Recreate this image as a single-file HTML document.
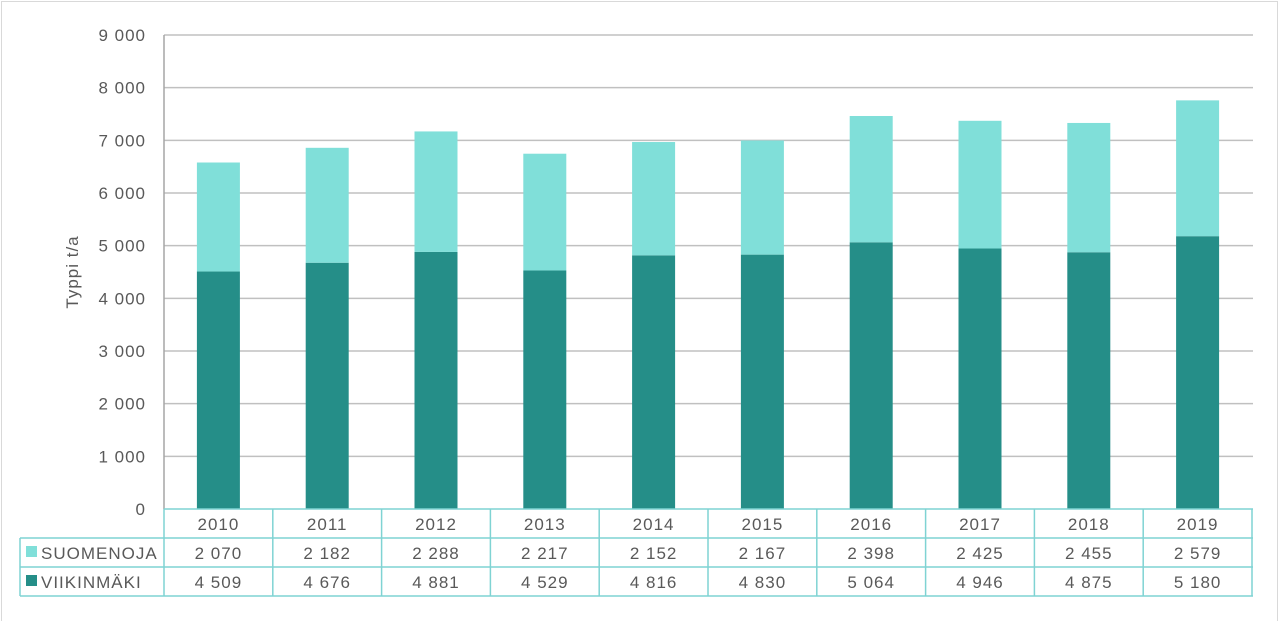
<!DOCTYPE html>
<html><head><meta charset="utf-8"><style>
body{margin:0;background:#fff;}
svg text{font-family:"Liberation Sans",sans-serif;fill:#595959;font-size:17px;letter-spacing:1px;}
</style></head><body>
<svg width="1280" height="621" xmlns="http://www.w3.org/2000/svg">
<rect x="1.5" y="1.5" width="1276" height="640" fill="#fff" stroke="#d9d9d9"/>
<g id="grid" stroke="#c0c0c0" stroke-width="1.5"></g>
<g id="bars"></g>
<g id="tbl" stroke="#7fd3d3" stroke-width="1.5" fill="none"></g>
<g id="txt"></g>
<text x="0" y="0" transform="translate(78,272) rotate(-90)" text-anchor="middle" font-size="16">Typpi t/a</text>
</svg>
<script>
const ns="http://www.w3.org/2000/svg";
function el(p,t,a,tx){const e=document.createElementNS(ns,t);for(const k in a)e.setAttribute(k,a[k]);if(tx!==undefined)e.textContent=tx;document.getElementById(p).appendChild(e);}
const y0=509,k=474/9000,L=164,W=108.8;
const labs=["0","1 000","2 000","3 000","4 000","5 000","6 000","7 000","8 000","9 000"];
for(let i=0;i<=9;i++){const y=y0-i*1000*k;if(i>0)el("grid","line",{x1:L,x2:1253,y1:y,y2:y});el("txt","text",{x:146,y:y+6,"text-anchor":"end"},labs[i]);}
el("grid","line",{x1:L,x2:L,y1:35,y2:509,stroke:"#a6a6a6"});
const yrs=[2010,2011,2012,2013,2014,2015,2016,2017,2018,2019];
const s=[2070,2182,2288,2217,2152,2167,2398,2425,2455,2579];
const v=[4509,4676,4881,4529,4816,4830,5064,4946,4875,5180];
const f=n=>{const t=String(n);return t.slice(0,t.length-3)+" "+t.slice(-3);};
for(let i=0;i<10;i++){const cx=L+W*(i+0.5),bx=cx-21.5;
const hv=v[i]*k,hs=s[i]*k;
el("bars","rect",{x:bx,y:y0-hv,width:43,height:hv,fill:"#258e88"});
el("bars","rect",{x:bx,y:y0-hv-hs,width:43,height:hs,fill:"#80dfd9"});
el("txt","text",{x:cx,y:530,"text-anchor":"middle"},yrs[i]);
el("txt","text",{x:cx,y:559,"text-anchor":"middle"},f(s[i]));
el("txt","text",{x:cx,y:588,"text-anchor":"middle"},f(v[i]));}
el("tbl","line",{x1:L,x2:1253,y1:509,y2:509});
el("tbl","line",{x1:20,x2:1253,y1:538,y2:538});
el("tbl","line",{x1:20,x2:1253,y1:567,y2:567});
el("tbl","line",{x1:20,x2:1253,y1:596,y2:596});
el("tbl","line",{x1:20,x2:20,y1:538,y2:596});
for(let i=0;i<=10;i++){const x=L+W*i;el("tbl","line",{x1:x,x2:x,y1:509,y2:596});}
el("bars","rect",{x:26,y:546,width:11,height:11,fill:"#80dfd9"});
el("bars","rect",{x:26,y:575,width:11,height:11,fill:"#258e88"});
el("txt","text",{x:41,y:559},"SUOMENOJA");
el("txt","text",{x:41,y:588},"VIIKINMÄKI");
</script>
</body></html>
